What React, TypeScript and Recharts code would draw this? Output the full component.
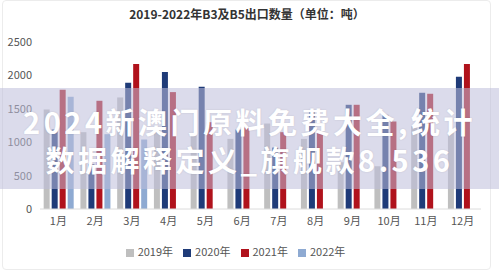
import React from 'react';
import { BarChart, Bar, XAxis, YAxis, Legend } from 'recharts';

// 月份与各年份出口数量（吨）
const months = ['1月', '2月', '3月', '4月', '5月', '6月', '7月', '8月', '9月', '10月', '11月', '12月'];
const v2019 = [1490, 1150, 1670, 1200, 1100, 1050, 1280, 1050, 700, 640, 1240, 1150];
const v2020 = [1190, 670, 1890, 2050, 1830, 1190, 920, 1460, 1560, 1410, 1740, 1980];
const v2021 = [1785, 1620, 2170, 1750, 1300, 1220, 1150, 1150, 1560, 1310, 1725, 2170];
const v2022 = [1680, 1120, 1040, null, null, null, null, null, null, null, null, null];
const yTicks = [0, 500, 1000, 1500, 2000, 2500];

const SERIES = [
  { key: 'y2019', name: '2019年', color: '#bfbfbf', values: v2019 },
  { key: 'y2020', name: '2020年', color: '#1f3b78', values: v2020 },
  { key: 'y2021', name: '2021年', color: '#b0121c', values: v2021 },
  { key: 'y2022', name: '2022年', color: '#8eaad2', values: v2022 },
];

const chartData = months.map((m, i) => {
  const row: any = { month: m };
  SERIES.forEach((s) => {
    row[s.key] = s.values[i];
  });
  return row;
});

const FONT = '"Noto Sans CJK SC", "Noto Sans", sans-serif';

const App: React.FC = () => {
  return (
    <div
      style={{
        position: 'fixed',
        left: 0,
        top: 0,
        width: 499,
        height: 279,
        background: '#fff',
        fontFamily: FONT,
        overflow: 'hidden',
      }}
    >
      <div
        style={{
          position: 'absolute',
          left: 2,
          top: 0,
          width: 489,
          height: 270,
          border: '1px solid #ececec',
          borderRadius: 4,
          boxSizing: 'border-box',
        }}
      />
      <div
        style={{
          position: 'absolute',
          top: 6,
          left: 0,
          width: 494,
          textAlign: 'center',
          fontSize: 12,
          fontWeight: 600,
          color: '#333',
          lineHeight: '16px',
        }}
      >
        2019-2022年B3及B5出口数量（单位：吨）
      </div>

      <BarChart
        width={499}
        height={279}
        data={chartData}
        margin={{ top: 42, right: 18, left: 0, bottom: 20 }}
        barCategoryGap="10%"
        barGap={2}
        style={{ position: 'absolute', left: 0, top: 0 }}
      >
        <XAxis
          dataKey="month"
          tickLine={false}
          axisLine={{ stroke: '#dcdcdc' }}
          tick={{ fontSize: 11, fill: '#555', fontFamily: FONT }}
          height={34}
        />
        <YAxis
          domain={[0, 2500]}
          ticks={yTicks}
          axisLine={false}
          tickLine={false}
          width={40}
          tick={{ fontSize: 11, fill: '#555', fontFamily: FONT }}
        />
        <Legend
          verticalAlign="bottom"
          iconType="square"
          iconSize={8}
          wrapperStyle={{ fontSize: 11, fontFamily: FONT, color: '#555' }}
          formatter={(value) => <span style={{ color: '#555' }}>{value}</span>}
        />
        {SERIES.map((s) => (
          <Bar key={s.key} dataKey={s.key} name={s.name} fill={s.color} isAnimationActive={false} />
        ))}
      </BarChart>

      {/* 半透明水印条 */}
      <div
        style={{
          position: 'absolute',
          left: 0,
          top: 88,
          width: 499,
          height: 101,
          background: 'rgba(190,190,218,0.55)',
          color: '#fff',
          fontWeight: 'bold',
          fontSize: 29,
          letterSpacing: 3.5,
          textAlign: 'center',
          lineHeight: '38px',
          paddingTop: 14,
          boxSizing: 'border-box',
          textShadow: '0 0 2px rgba(0,0,0,0.12)',
          whiteSpace: 'nowrap',
        }}
      >
        <div>2024新澳门原料免费大全,统计</div>
        <div>数据解释定义_旗舰款8.536</div>
      </div>
    </div>
  );
};

export default App;
